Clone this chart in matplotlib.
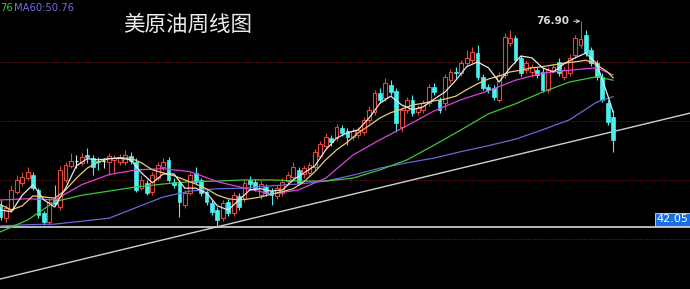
import numpy as np
import matplotlib.pyplot as plt

plt.rcParams['font.family'] = ['Noto Sans CJK SC', 'DejaVu Sans']

# weekly bars, oldest first
OPEN = [45.8, 43.5, 44.9, 48.0, 49.5, 50.3, 50.8, 48.3, 44.4, 42.9,
        46.8, 45.4, 50.0, 52.4, 53.2, 52.9, 54.2, 53.7, 53.2, 53.2,
        53.0, 53.4, 53.0, 53.0, 54.1, 53.0, 48.6, 49.5, 48.0, 50.3,
        52.2, 53.4, 49.7, 49.5, 45.8, 47.8, 51.2, 50.0, 48.0, 46.1,
        44.9, 43.5, 46.3, 44.4, 47.3, 46.8, 50.0, 49.7, 47.5, 48.8,
        48.1, 47.3, 47.8, 49.8, 50.5, 51.7, 51.0, 51.2, 52.2, 54.1,
        55.8, 57.1, 57.1, 58.8, 58.3, 57.3, 57.6, 58.1, 60.2, 61.5,
        64.7, 63.9, 66.1, 65.1, 59.0, 61.9, 63.6, 61.5, 61.9, 63.0,
        65.8, 63.6, 63.1, 66.9, 68.3, 68.1, 69.8, 70.3, 71.5, 67.5,
        65.8, 65.6, 63.6, 67.8, 73.2, 74.1, 70.7, 68.6, 68.3, 68.6,
        68.3, 65.3, 68.6, 70.0, 67.5, 68.1, 71.2, 72.9, 74.6, 72.0,
        69.8, 67.5, 63.1, 60.7]
HIGH = [46.6, 45.8, 49.1, 50.8, 51.4, 52.2, 51.4, 48.6, 44.7, 46.9,
        49.1, 52.4, 53.0, 54.6, 54.2, 54.6, 55.4, 54.2, 53.9, 53.7,
        54.6, 54.2, 54.4, 55.1, 54.7, 53.7, 50.8, 50.0, 51.4, 53.0,
        53.7, 53.9, 50.3, 50.0, 48.3, 51.4, 52.2, 50.3, 48.3, 46.6,
        45.4, 46.6, 46.8, 47.9, 47.8, 50.0, 50.7, 50.2, 50.0, 49.3,
        48.6, 49.1, 50.3, 51.4, 53.0, 52.2, 52.5, 53.0, 55.3, 56.6,
        58.0, 57.6, 59.5, 59.3, 58.8, 58.8, 59.0, 60.7, 62.5, 65.3,
        65.6, 67.3, 66.9, 65.6, 62.4, 64.1, 64.4, 62.7, 63.6, 66.3,
        66.4, 64.1, 68.0, 68.8, 69.1, 70.3, 72.0, 72.5, 72.9, 68.0,
        66.3, 66.1, 68.3, 74.9, 75.4, 74.6, 71.2, 70.3, 69.7, 69.1,
        69.0, 69.1, 69.7, 70.7, 69.1, 71.4, 74.6, 76.90, 75.4, 72.5,
        70.3, 68.1, 63.6, 61.9]
LOW = [43.2, 42.9, 44.6, 47.6, 49.0, 50.0, 48.3, 43.6, 42.4, 42.3,
       45.6, 44.9, 49.7, 52.0, 52.0, 52.5, 52.9, 50.8, 51.7, 52.0,
       50.8, 51.2, 52.5, 52.5, 52.7, 48.0, 48.3, 47.4, 47.4, 50.0,
       51.7, 49.7, 48.6, 43.7, 45.3, 47.4, 49.3, 47.3, 45.8, 44.1,
       42.05, 43.0, 43.9, 43.9, 44.9, 46.3, 48.3, 48.1, 46.8, 47.3,
       45.8, 46.8, 47.3, 49.3, 50.0, 49.2, 50.3, 50.8, 51.7, 53.7,
       55.3, 55.8, 56.6, 57.5, 55.9, 56.8, 57.1, 57.6, 59.7, 61.0,
       63.0, 63.4, 64.4, 58.1, 58.1, 61.4, 60.8, 61.0, 61.4, 62.5,
       64.4, 61.4, 61.9, 66.4, 67.3, 67.6, 69.3, 69.8, 66.9, 65.3,
       64.7, 63.6, 63.2, 67.3, 72.7, 69.8, 67.6, 68.1, 67.5, 67.3,
       64.9, 64.7, 68.3, 67.6, 66.9, 67.6, 70.7, 72.4, 71.0, 69.3,
       66.9, 63.2, 59.3, 54.8]
CLOSE = [43.7, 45.3, 48.3, 50.0, 50.5, 51.4, 48.6, 44.1, 42.9, 46.3,
         45.9, 51.7, 52.5, 53.2, 53.2, 53.9, 53.9, 52.2, 53.0, 53.1,
         54.1, 53.7, 53.9, 54.2, 53.2, 48.3, 50.0, 47.8, 50.8, 52.5,
         53.0, 50.0, 49.2, 46.3, 47.8, 50.8, 49.7, 47.8, 46.3, 44.6,
         43.2, 46.1, 44.4, 47.4, 45.4, 49.5, 49.3, 48.6, 49.3, 47.8,
         47.5, 48.6, 49.7, 50.8, 52.2, 49.5, 52.0, 52.5, 54.7, 56.1,
         57.3, 56.4, 59.0, 58.0, 57.3, 58.3, 58.5, 60.2, 61.9, 64.7,
         63.6, 66.4, 64.9, 59.7, 61.9, 63.6, 61.4, 62.2, 63.0, 65.8,
         64.9, 61.9, 67.5, 68.3, 68.1, 69.8, 70.7, 71.7, 67.5, 65.6,
         65.3, 64.1, 67.8, 74.2, 74.1, 70.3, 68.1, 69.8, 69.1, 67.8,
         65.3, 68.6, 69.1, 68.1, 68.6, 70.7, 74.1, 73.9, 71.5, 69.8,
         67.5, 63.6, 59.8, 56.8]

# moving averages, read every 2nd week (fast) and every 5th week (slow)
FAST_WEEKS = list(range(0, 113, 2)) + [113]
MA5 = [44.9, 44.6, 47.4, 49.2, 46.6, 45.4, 48.6, 52.4, 53.6, 53.4,
       53.6, 53.7, 53.4, 51.2, 49.5, 51.0, 51.0, 48.6, 48.6, 47.8,
       45.6, 44.9, 46.6, 48.3, 48.5, 48.1, 48.3, 50.0, 51.2, 52.4,
       55.1, 57.1, 58.0, 58.5, 60.5, 63.0, 64.2, 62.7, 61.9, 62.4,
       63.7, 64.9, 66.9, 69.2, 70.0, 69.0, 66.6, 69.0, 71.0, 70.7,
       69.0, 68.3, 69.7, 70.7, 71.5, 69.7, 64.4, 61.5]
MA10 = [45.8, 44.9, 45.6, 47.3, 47.1, 46.9, 48.3, 50.3, 52.0, 53.0,
        53.6, 53.7, 53.7, 52.9, 51.7, 51.2, 50.7, 50.0, 49.3, 48.5,
        47.4, 46.8, 46.6, 46.8, 47.1, 47.6, 48.0, 48.5, 49.7, 51.4,
        53.4, 55.1, 56.4, 58.0, 59.2, 60.5, 61.4, 62.0, 62.7, 63.0,
        63.4, 63.7, 64.2, 65.3, 66.3, 67.1, 67.6, 68.3, 68.6, 69.0,
        69.2, 69.5, 69.8, 70.0, 70.3, 69.5, 68.3, 67.3]
SLOW_WEEKS = list(range(0, 111, 5)) + [113]
MA20 = [46.6, 46.8, 46.6, 49.2, 50.9, 51.7, 51.9, 51.4, 49.7, 48.6,
        47.6, 48.3, 50.3, 54.2, 56.8, 59.2, 61.7, 63.6, 65.1, 66.9,
        68.1, 68.6, 69.0, 67.8]
MA30 = [41.2, 43.2, 46.3, 47.4, 48.1, 48.8, 49.3, 49.7, 49.8, 50.0,
        50.0, 49.8, 49.8, 50.3, 51.7, 53.4, 55.9, 58.5, 61.2, 62.9,
        64.9, 66.6, 67.5, 66.9]
MA60 = [42.2, 42.4, 42.5, 43.0, 43.5, 45.3, 47.1, 48.1, 48.5, 48.6,
        49.0, 49.3, 49.8, 50.8, 52.0, 52.9, 53.7, 54.8, 55.8, 56.9,
        58.5, 60.2, 63.2, 64.1]

GRID_LEVELS = [40, 50, 60, 70]
SUPPORT = 42.05
TREND_SLOPE = 0.221  # price per week, rising support from the 42.05 low

UP = '#e0483c'
DOWN = '#48f0f0'
BG = '#000000'


def draw_candles(ax):
    o, h, l, c = map(np.array, (OPEN, HIGH, LOW, CLOSE))
    x = np.arange(len(o))
    up = c > o + 0.12
    down = c < o - 0.12
    flat = ~(up | down)
    ax.vlines(x[up], l[up], h[up], color=UP, lw=0.8, zorder=2)
    ax.vlines(x[down], l[down], h[down], color=DOWN, lw=0.8, zorder=2)
    ax.vlines(x[flat], l[flat], h[flat], color='#e8e8e8', lw=0.8, zorder=2)
    ax.bar(x[up], c[up] - o[up], bottom=o[up], width=0.7,
           facecolor=BG, edgecolor=UP, lw=0.8, zorder=3)
    ax.bar(x[down], o[down] - c[down], bottom=c[down], width=0.7,
           facecolor=DOWN, edgecolor=DOWN, lw=0.5, zorder=3)
    ax.hlines((o[flat] + c[flat]) / 2, x[flat] - 0.35, x[flat] + 0.35,
              color='#e8e8e8', lw=0.9, zorder=3)


def draw_averages(ax):
    ax.plot(SLOW_WEEKS, MA60, color='#6868d8', lw=0.9, zorder=4)
    ax.plot(SLOW_WEEKS, MA30, color='#3cc83c', lw=0.9, zorder=4)
    ax.plot(SLOW_WEEKS, MA20, color='#e040e0', lw=0.9, zorder=4)
    ax.plot(FAST_WEEKS, MA10, color='#e8cc78', lw=0.9, zorder=4)
    ax.plot(FAST_WEEKS, MA5, color='#e8e8e8', lw=0.9, zorder=4)


def main():
    fig = plt.figure(figsize=(6.9, 2.89), dpi=100, facecolor=BG)
    ax = fig.add_axes([0, 0, 1, 1], facecolor=BG)
    x0, x1 = -0.1, 127.2
    ax.set_xlim(x0, x1)
    ax.set_ylim(31.5, 80.5)
    ax.set_axis_off()

    for lvl in GRID_LEVELS:
        ax.axhline(lvl, color='#8a1c1c', lw=0.7, ls=(0, (1, 1.5)), zorder=1)

    # support line at the low and the rising trend line through it
    ax.axhline(SUPPORT, color='#d8d8d8', lw=1.2, zorder=2)
    low_week = LOW.index(SUPPORT)
    tx = np.array([x0, x1])
    ax.plot(tx, SUPPORT + TREND_SLOPE * (tx - low_week),
            color='#d0d0d0', lw=1.0, zorder=2)

    draw_candles(ax)
    draw_averages(ax)

    top = int(np.argmax(HIGH))
    ax.annotate(f'{HIGH[top]:.2f}', xy=(top, HIGH[top]), xytext=(-8, 0),
                textcoords='offset points', ha='right', va='center',
                fontsize=7.5, fontweight='bold', color='#d8d8d8',
                family='DejaVu Sans',
                arrowprops=dict(arrowstyle='->', color='#d8d8d8', lw=0.7,
                                shrinkA=1, shrinkB=0, mutation_scale=6))

    ax.text(0.998, SUPPORT + 0.4, f'{SUPPORT:.2f}',
            transform=ax.get_yaxis_transform(), ha='right', va='bottom',
            fontsize=8, color='white', family='DejaVu Sans', zorder=6,
            bbox=dict(boxstyle='square,pad=0.12', facecolor='#1a6fe0',
                      edgecolor='#cfd8f0', lw=0.6))

    ax.text(123 / 690, 1 - 25 / 289, '美原油周线图', transform=ax.transAxes,
            ha='left', va='center', fontsize=15.5, color='#ececec', zorder=6)

    ax.text(0.0, 1 - 8 / 289, '76', transform=ax.transAxes, ha='left',
            va='center', fontsize=7.2, color='#3cc83c', family='DejaVu Sans')
    ax.text(14 / 690, 1 - 8 / 289, f'MA60:{50.76:.2f}', transform=ax.transAxes,
            ha='left', va='center', fontsize=7.2, color='#7070e0',
            family='DejaVu Sans')

    fig.savefig('out.png', dpi=100, facecolor=BG)


if __name__ == '__main__':
    main()
